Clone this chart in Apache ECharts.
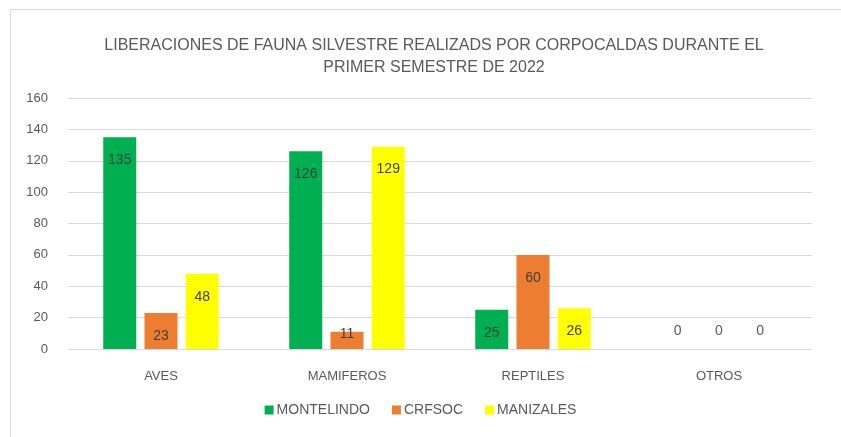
<!DOCTYPE html>
<html>
<head>
<meta charset="utf-8">
<script src="https://cdn.jsdelivr.net/npm/echarts@6/dist/echarts.min.js"></script>
<style>
  html, body { margin: 0; padding: 0; background: #fff; }
  #chart { width: 841px; height: 437px; }
</style>
</head>
<body>
<div id="chart"></div>
<script>
// datos
const categories = ['AVES', 'MAMIFEROS', 'REPTILES', 'OTROS'];
const montelindo = [135, 126, 25, 0];
const crfsoc = [23, 11, 60, 0];
const manizales = [48, 129, 26, 0];
const yTicks = [0, 20, 40, 60, 80, 100, 120, 140, 160];

const font = '"Liberation Sans", sans-serif';

// los ceros van encima del eje, las barras cortas llevan la etiqueta en el borde
function toData(arr) {
  return arr.map(v => {
    if (v === 0) return { value: v, label: { position: 'top', distance: 11, color: '#595959' } };
    if (v < 15) return { value: v, label: { position: 'top', distance: -9 } };
    return v;
  });
}

function makeSeries(name, color, arr) {
  return {
    name: name,
    type: 'bar',
    data: toData(arr),
    barWidth: 33,
    barGap: '25%',
    itemStyle: { color: color },
    label: {
      show: true,
      position: 'insideTop',
      distance: 16,
      color: '#404040',
      fontFamily: font,
      fontSize: 14
    }
  };
}

const chart = echarts.init(document.getElementById('chart'));
chart.setOption({
  animation: false,
  backgroundColor: '#fff',
  graphic: [{
    type: 'rect',
    shape: { x: 10.5, y: 9.5, width: 840, height: 440 },
    style: { fill: 'none', stroke: '#d9d9d9', lineWidth: 1 },
    silent: true
  }],
  title: {
    text: 'LIBERACIONES DE FAUNA SILVESTRE REALIZADS POR CORPOCALDAS DURANTE EL\nPRIMER SEMESTRE DE 2022',
    left: 429,
    top: 30,
    textAlign: 'center',
    textStyle: {
      fontFamily: font,
      fontSize: 16,
      fontWeight: 'normal',
      color: '#595959',
      lineHeight: 22
    }
  },
  legend: {
    bottom: 15,
    left: 'center',
    itemWidth: 9,
    itemHeight: 9,
    itemGap: 22,
    icon: 'rect',
    textStyle: { fontFamily: font, fontSize: 14, color: '#595959', padding: [0, 0, 0, -2] },
    data: ['MONTELINDO', 'CRFSOC', 'MANIZALES']
  },
  grid: { left: 68, right: 29, top: 98, bottom: 88, containLabel: false },
  xAxis: {
    type: 'category',
    data: categories,
    axisLine: { lineStyle: { color: '#d9d9d9' } },
    axisTick: { show: false },
    axisLabel: { color: '#595959', fontFamily: font, fontSize: 13, margin: 21 }
  },
  yAxis: {
    type: 'value',
    min: yTicks[0],
    max: yTicks[yTicks.length - 1],
    interval: 20,
    axisLine: { show: false },
    axisTick: { show: false },
    splitLine: { lineStyle: { color: '#d9d9d9' } },
    axisLabel: { color: '#595959', fontFamily: font, fontSize: 13, margin: 20 }
  },
  series: [
    makeSeries('MONTELINDO', '#00B050', montelindo),
    makeSeries('CRFSOC', '#ED7D31', crfsoc),
    makeSeries('MANIZALES', '#FFFF00', manizales)
  ]
});
</script>
</body>
</html>
